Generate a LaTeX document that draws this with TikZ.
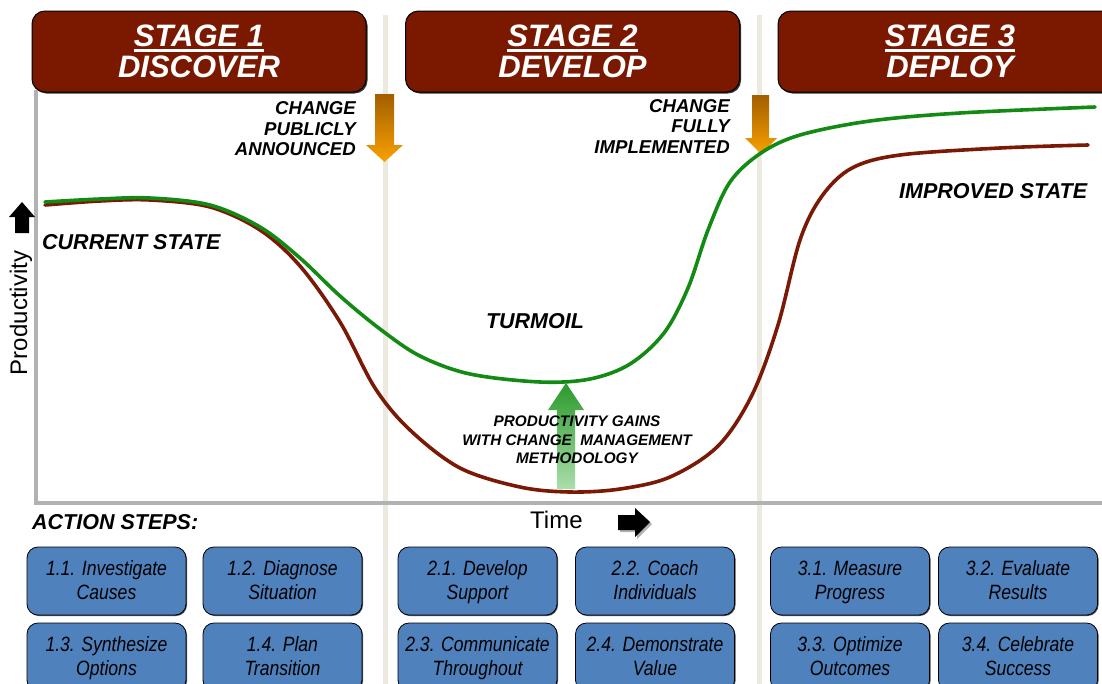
\documentclass[tikz,border=0pt]{standalone}
\usepackage{fontspec}
\setmainfont{Liberation Sans}
\newfontfamily\narrowsans[FakeStretch=0.85]{Liberation Sans}
\usetikzlibrary{shadows}
\definecolor{stagered}{HTML}{7A1800}
\definecolor{stepblue}{HTML}{4F81BD}
\definecolor{beige}{HTML}{ECE9DF}
\definecolor{axisgrey}{HTML}{B2B2B2}
\definecolor{curvegreen}{HTML}{138A13}
\definecolor{curvered}{HTML}{7A1A06}
\definecolor{orgtop}{HTML}{A35E00}
\definecolor{orgbot}{HTML}{F9A100}
\definecolor{grtop}{HTML}{2A9A2A}
\definecolor{grbot}{HTML}{ABDEAB}
\newcommand\stul[1]{\setbox0\hbox{#1}\rlap{\usebox0}\raisebox{-5pt}{\rule{\wd0}{3pt}}}
\newcommand\bstrut{\rule[-5pt]{0pt}{23pt}}
\tikzset{
  stagebox/.style={draw=black, line width=1pt, fill=stagered, rounded corners=13pt,
    minimum width=334pt, minimum height=81pt, inner sep=0pt, align=center, text=white,
    font=\fontsize{31}{31}\selectfont\bfseries\itshape,
    drop shadow={shadow xshift=1.5pt, shadow yshift=-1.5pt, opacity=0.8, fill=black}},
  stepbox/.style={draw=black, line width=0.8pt, fill=stepblue, rounded corners=11pt,
    minimum width=159pt, minimum height=68pt, inner sep=0pt, align=center, text=black,
    font=\narrowsans\fontsize{20.7}{22.5}\selectfont\itshape,
    drop shadow={shadow xshift=1pt, shadow yshift=-1pt, opacity=0.7, fill=black}},
  biglabel/.style={inner sep=0pt, font=\fontsize{21.5}{21.5}\selectfont\bfseries\itshape},
  evlabel/.style={inner sep=0pt, align=right, font=\fontsize{18.6}{20.5}\selectfont\bfseries\itshape},
  curve/.style={line width=3.6pt, line cap=round, line join=round},
}
\begin{document}
\begin{tikzpicture}[x=1pt,y=-1pt]
\useasboundingbox (0,0) rectangle (1102,683);
\clip (0,0) rectangle (1102,683);
\fill[white] (0,0) rectangle (1102,683);
% stage separators
\draw[beige, line width=5pt] (385,15) -- (385,690);
\draw[beige, line width=5pt] (759,15) -- (759,690);
% axes
\draw[axisgrey, line width=4pt] (36,90) -- (36,503) -- (1110,503);
% stage boxes
\node[stagebox] (s1) at (199,51.5) {\stul{STAGE 1}\\DISCOVER};
\node[stagebox] (s2) at (572.5,51.5) {\stul{STAGE 2}\\DEVELOP};
\node[stagebox, minimum width=344pt] (s3) at (950,51.5) {\stul{STAGE 3}\\DEPLOY};
% orange event arrows
\shade[top color=orgtop, bottom color=orgbot] (375,94) -- (394,94) -- (394,145) -- (403,145)
  -- (384.5,162) -- (366,145) -- (375,145) -- cycle;
\shade[top color=orgtop, bottom color=orgbot] (752,95) -- (769,95) -- (769,138) -- (777,138)
  -- (761,154) -- (745,138) -- (752,138) -- cycle;
% green gain arrow
\shade[top color=grtop, bottom color=grbot] (557,489) -- (575,489) -- (575,410) -- (584,410)
  -- (566,383) -- (548,410) -- (557,410) -- cycle;
% curves
\draw[curve, curvered] plot[smooth, tension=0.55] coordinates {
  (45,205) (100,201) (150,200) (210,207) (260,230) (300,266) (340,322) (375,388)
  (410,430) (460,468) (520,487) (570,492) (620,489) (670,477) (718,446) (752,395)
  (778,325) (800,240) (822,196) (852,168) (900,155) (1000,148) (1088,145)};
\draw[curve, curvegreen] plot[smooth, tension=0.55] coordinates {
  (45,202) (100,199) (150,198) (210,205) (260,227) (300,258) (340,296) (380,329)
  (420,356) (470,374) (540,382) (590,379) (630,364) (664,333) (688,288) (708,230)
  (730,182) (761,153) (800,135) (870,121) (960,113) (1095,107)};
% event labels
\node[evlabel, anchor=north east] (pub) at (356,101.5) {CHANGE\\PUBLICLY\\ANNOUNCED};
\node[evlabel, anchor=north east] (full) at (730,99) {CHANGE\\FULLY\\IMPLEMENTED};
% state labels
\node[biglabel, anchor=base west] (cur) at (42,249) {CURRENT STATE};
\node[biglabel, anchor=base] (turm) at (535,328) {TURMOIL};
\node[biglabel, anchor=base west] (impr) at (899,198) {IMPROVED STATE};
\node[inner sep=0pt, anchor=north, align=center, font=\fontsize{15.3}{18.5}\selectfont\bfseries\itshape]
  (gain) at (577,416) {PRODUCTIVITY GAINS\\WITH CHANGE\ \ MANAGEMENT\\METHODOLOGY};
% axis labels
\node[inner sep=0pt, rotate=90, font=\fontsize{24}{24}\selectfont] (prod) at (21,313) {Productivity};
\fill[black] (15,233) -- (29,233) -- (29,217) -- (35,217) -- (22,202) -- (9,217) -- (15,217) -- cycle;
\node[inner sep=0pt, anchor=base west, font=\fontsize{24}{24}\selectfont] (time) at (530,528) {Time};
\fill[gray!60] (620,517) -- (637,517) -- (637,510) -- (652,524) -- (637,539) -- (637,532) -- (620,532) -- cycle;
\fill[black] (618,515) -- (635,515) -- (635,508) -- (650,522) -- (635,537) -- (635,530) -- (618,530) -- cycle;
% action steps
\node[biglabel, anchor=base west] (act) at (32,529) {ACTION STEPS:};
\node[stepbox] (a11) at (106.5,581) {1.1. Investigate\bstrut\\Causes\bstrut};
\node[stepbox] (a12) at (282.5,581) {1.2. Diagnose\bstrut\\Situation\bstrut};
\node[stepbox] (a13) at (106.5,657) {1.3. Synthesize\bstrut\\Options\bstrut};
\node[stepbox] (a14) at (282.5,657) {1.4. Plan\bstrut\\Transition\bstrut};
\node[stepbox] (a21) at (477.5,581) {2.1. Develop\bstrut\\Support\bstrut};
\node[stepbox] (a22) at (655,581) {2.2. Coach\bstrut\\Individuals\bstrut};
\node[stepbox] (a23) at (477.5,657) {2.3. Communicate\bstrut\\Throughout\bstrut};
\node[stepbox] (a24) at (655,657) {2.4. Demonstrate\bstrut\\Value\bstrut};
\node[stepbox] (a31) at (850,581) {3.1. Measure\bstrut\\Progress\bstrut};
\node[stepbox] (a32) at (1018,581) {3.2. Evaluate\bstrut\\Results\bstrut};
\node[stepbox] (a33) at (850,657) {3.3. Optimize\bstrut\\Outcomes\bstrut};
\node[stepbox] (a34) at (1018,657) {3.4. Celebrate\bstrut\\Success\bstrut};
\end{tikzpicture}
\end{document}
